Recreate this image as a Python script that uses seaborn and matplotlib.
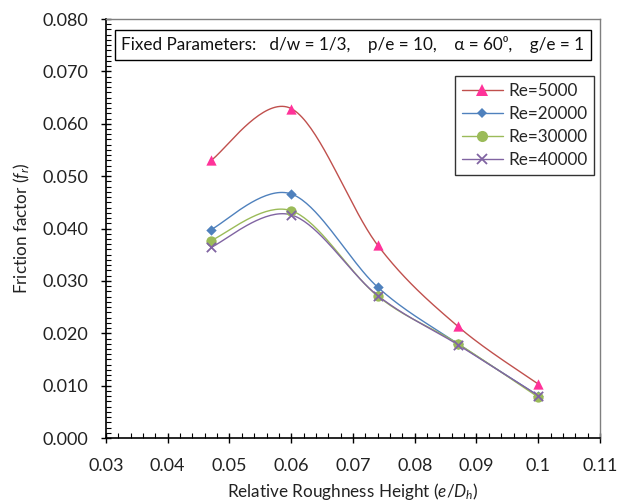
import numpy as np
import pandas as pd
import seaborn as sns
import matplotlib.pyplot as plt
from matplotlib.lines import Line2D
from matplotlib.ticker import MultipleLocator, FuncFormatter

sns.set_theme(style="white")
plt.rcParams['font.family'] = ['Lato', 'DejaVu Sans']
plt.rcParams['mathtext.fontset'] = 'custom'
plt.rcParams['mathtext.rm'] = 'Lato'
plt.rcParams['mathtext.it'] = 'Lato:italic'

# relative roughness height e/Dh
rough = [0.047, 0.060, 0.074, 0.087, 0.100]

re_labels = ["Re=5000", "Re=20000", "Re=30000", "Re=40000"]
f_re5000 = [0.0530, 0.0629, 0.0368, 0.0213, 0.0103]
f_re20000 = [0.0398, 0.0466, 0.0288, 0.0180, 0.0081]
f_re30000 = [0.0377, 0.0434, 0.0271, 0.0180, 0.0078]
f_re40000 = [0.0364, 0.0426, 0.0272, 0.0178, 0.0081]

line_colors = ["#C0504D", "#4F81BD", "#9BBB59", "#8064A2"]
marker_colors = ["#FF3399", "#4F81BD", "#9BBB59", "#8064A2"]
markers = ["^", "D", "o", "x"]
marker_sizes = [55, 28, 55, 45]


def smooth(xs, ys, n=40):
    # excel-ish smoothed line: cubic bezier with catmull-rom control points
    p = np.column_stack([xs, ys])
    out = []
    for i in range(len(p) - 1):
        p0 = p[i - 1] if i > 0 else p[i]
        p1, p2 = p[i], p[i + 1]
        p3 = p[i + 2] if i + 2 < len(p) else p[i + 1]
        c1 = p1 + (p2 - p0) / 6
        c2 = p2 - (p3 - p1) / 6
        t = np.linspace(0, 1, n)[:, None]
        seg = (1 - t) ** 3 * p1 + 3 * (1 - t) ** 2 * t * c1 + 3 * (1 - t) * t ** 2 * c2 + t ** 3 * p2
        out.append(seg if i == 0 else seg[1:])
    return np.vstack(out)


series = [f_re5000, f_re20000, f_re30000, f_re40000]

pts = pd.DataFrame({
    "x": rough * 4,
    "f": f_re5000 + f_re20000 + f_re30000 + f_re40000,
    "Re": [lab for lab in re_labels for _ in rough],
})

curves = []
for lab, ys in zip(re_labels, series):
    c = smooth(rough, ys)
    curves.append(pd.DataFrame({"x": c[:, 0], "f": c[:, 1], "Re": lab}))
curves = pd.concat(curves, ignore_index=True)

fig = plt.figure(figsize=(6.22, 5.03), dpi=100)
ax = fig.add_axes([0.1704, 0.1292, 0.7942, 0.833])

sns.lineplot(data=curves, x="x", y="f", hue="Re", palette=line_colors, sort=False,
             estimator=None, linewidth=1.0, legend=False, ax=ax)
for i, lab in enumerate(re_labels):
    sub = pts[pts["Re"] == lab]
    if markers[i] == "x":
        sns.scatterplot(data=sub, x="x", y="f", marker="x", color=marker_colors[i],
                        s=marker_sizes[i], linewidth=1.3, legend=False, ax=ax, zorder=5)
    else:
        sns.scatterplot(data=sub, x="x", y="f", marker=markers[i], color=marker_colors[i],
                        s=marker_sizes[i], linewidth=0, legend=False, ax=ax, zorder=5)

ax.set_xlim(0.03, 0.11)
ax.set_ylim(0, 0.08)
ax.xaxis.set_major_locator(MultipleLocator(0.01))
ax.xaxis.set_minor_locator(MultipleLocator(0.002))
ax.yaxis.set_major_locator(MultipleLocator(0.01))
ax.yaxis.set_minor_locator(MultipleLocator(0.001))
ax.xaxis.set_major_formatter(FuncFormatter(lambda v, p: f"{v:g}"))
ax.yaxis.set_major_formatter(FuncFormatter(lambda v, p: f"{v:.3f}"))

ax.tick_params(which="major", direction="inout", length=7, width=1, color="black",
               labelsize=13, labelcolor="#222222")
ax.tick_params(axis="y", which="major", pad=9)
ax.tick_params(axis="x", which="major", pad=11)
ax.tick_params(which="minor", direction="in", length=3.5, width=0.8, color="black")
ax.tick_params(top=False, right=False, which="both")
ax.tick_params(left=True, bottom=True, which="both")

for side in ["left", "bottom"]:
    ax.spines[side].set_color("black")
    ax.spines[side].set_linewidth(1.2)
for side in ["top", "right"]:
    ax.spines[side].set_color("#7f7f7f")
    ax.spines[side].set_linewidth(1.0)

ax.set_xlabel(r"Relative Roughness Height ($\mathit{e/D_h}$)", fontsize=12.3, color="#222222", labelpad=5)
ax.set_ylabel(r"Friction factor ($\mathit{f_r}$)", fontsize=12.3, color="#222222", labelpad=8)

ax.text(0.5, 0.938, "Fixed Parameters:   d/w = 1/3,    p/e = 10,    α = 60⁰,    g/e = 1",
        transform=ax.transAxes, ha="center", va="center", fontsize=12.3, color="#111111",
        bbox=dict(boxstyle="square,pad=0.4", facecolor="white", edgecolor="black", linewidth=1))

handles = [Line2D([0], [0], color=line_colors[i], linewidth=1.0, marker=markers[i],
                  markerfacecolor=marker_colors[i], markeredgecolor=marker_colors[i],
                  markersize=[8, 5, 8, 7][i], markeredgewidth=[0, 0, 0, 1.3][i])
           for i in range(4)]
leg = ax.legend(handles, re_labels, loc="upper right", bbox_to_anchor=(0.988, 0.864),
                borderaxespad=0, fontsize=12.3, frameon=True, fancybox=False, handlelength=2.4,
                labelspacing=0.42, borderpad=0.4, handletextpad=0.3)
leg.get_frame().set_edgecolor("black")
leg.get_frame().set_linewidth(1.0)

fig.savefig("out.png", dpi=100)
